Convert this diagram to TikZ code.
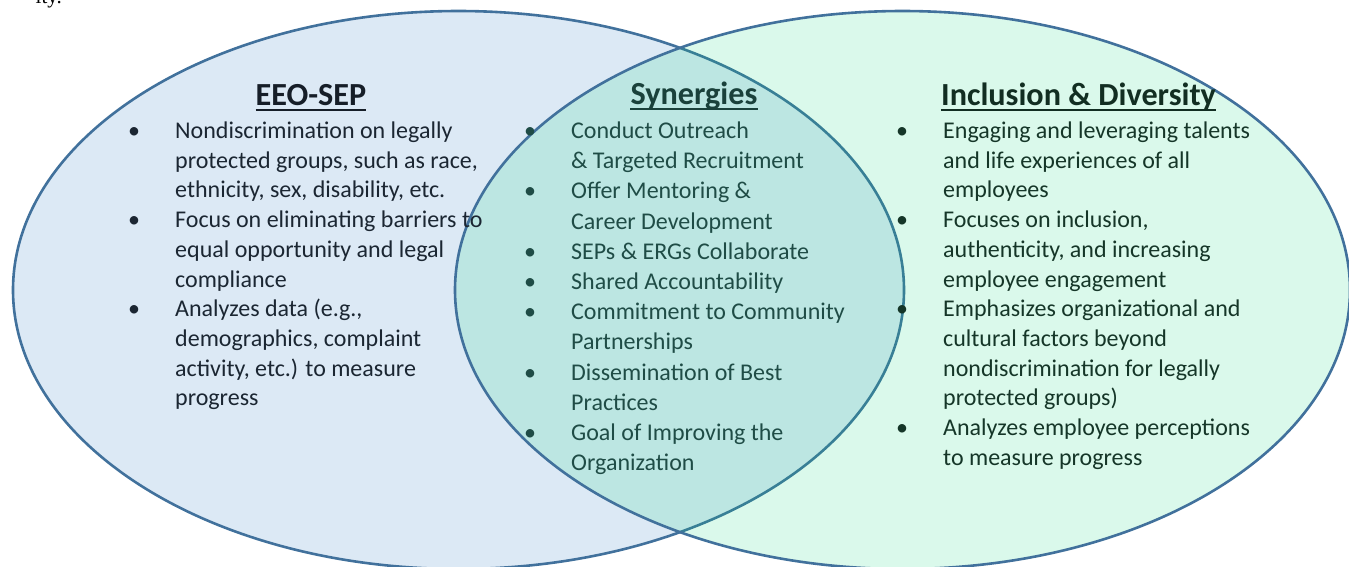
\documentclass[tikz,border=0pt]{standalone}
\usepackage{fontspec}
\usepackage{array}
\setmainfont{Carlito}
\newfontfamily\pagefont{Liberation Serif}

\definecolor{eeofill}{HTML}{DCE9F5}
\definecolor{idfill}{RGB}{7,213,118}
\definecolor{rim}{HTML}{41719C}
\definecolor{eeotext}{HTML}{1B2632}
\definecolor{syntext}{HTML}{1F4C46}
\definecolor{idtext}{HTML}{153628}

% bullet column + text column, one row per printed line
\newcommand{\pointlist}[1]{\begin{tabular}[t]{@{}p{47pt}@{}l@{}}#1\end{tabular}}
\newcommand{\bul}{•}

\tikzset{
  heading/.style={inner sep=0pt, anchor=base, font=\fontsize{32.2}{36}\selectfont\bfseries},
  points/.style={inner sep=0pt, anchor=base west, font=\fontsize{24}{29.7}\selectfont},
  rim line/.style={draw=rim, line width=2.6pt},
  under/.style={line width=2pt}
}

\begin{document}
\begin{tikzpicture}[x=1pt, y=-1pt]
    \useasboundingbox (0,0) rectangle (1349,566);

    \coordinate (L) at (458.5,290);
    \coordinate (R) at (902.5,290);

    % tail of the line above the figure
    \node[anchor=base east, inner sep=0pt, font=\pagefont\fontsize{21}{24}\selectfont] (tail) at (62,3) {ity.};

    \fill[eeofill] (L) ellipse [x radius=445.5pt, y radius=279pt];
    \draw[rim line] (L) ellipse [x radius=445.5pt, y radius=279pt];
    \filldraw[rim line, fill=idfill, fill opacity=0.15] (R) ellipse [x radius=447.5pt, y radius=279pt];

    \node[heading, text=eeotext!80!black] (eeo) at (311,105) {EEO-SEP};
    \node[heading, text=syntext!85!black] (syn) at (694,104) {Synergies};
    \node[heading, text=idtext!85!black] (incl) at (1078.5,105) {Inclusion \& Diversity};

    \draw[under, eeotext!80!black] ([yshift=-5pt]eeo.base west) -- ([yshift=-5pt]eeo.base east);
    \draw[under, syntext!85!black] ([yshift=-5pt]syn.base west) -- ([yshift=-5pt]syn.base east);
    \draw[under, idtext!85!black] ([yshift=-5pt]incl.base west) -- ([yshift=-5pt]incl.base east);

    \node[points, text=eeotext] (eeo list) at (128,138.5) {\pointlist{
      \bul & Nondiscrimination on legally\\
           & protected groups, such as race,\\
           & ethnicity, sex, disability, etc.\\
      \bul & Focus on eliminating barriers to\\
           & equal opportunity and legal\\
           & compliance\\
      \bul & Analyzes data (e.g.,\\
           & demographics, complaint\\
           & activity, etc.) to measure\\
           & progress}};

    \node[points, text=syntext, font=\fontsize{24}{30.2}\selectfont] (syn list) at (524,138.5) {\pointlist{
      \bul & Conduct Outreach\\
           & \& Targeted Recruitment\\
      \bul & Offer Mentoring \&\\
           & Career Development\\
      \bul & SEPs \& ERGs Collaborate\\
      \bul & Shared Accountability\\
      \bul & Commitment to Community\\
           & Partnerships\\
      \bul & Dissemination of Best\\
           & Practices\\
      \bul & Goal of Improving the\\
           & Organization}};

    \node[points, text=idtext] (incl list) at (896,138.5) {\pointlist{
      \bul & Engaging and leveraging talents\\
           & and life experiences of all\\
           & employees\\
      \bul & Focuses on inclusion,\\
           & authenticity, and increasing\\
           & employee engagement\\
      \bul & Emphasizes organizational and\\
           & cultural factors beyond\\
           & nondiscrimination for legally\\
           & protected groups)\\
      \bul & Analyzes employee perceptions\\
           & to measure progress}};
\end{tikzpicture}
\end{document}
